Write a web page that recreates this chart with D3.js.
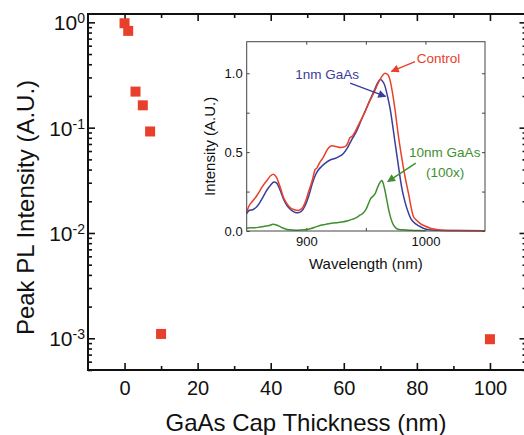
<!DOCTYPE html>
<html><head><meta charset="utf-8">
<script src="https://cdn.jsdelivr.net/npm/d3@7"></script>
<style>body{margin:0;background:#fff}svg{display:block;font-family:"Liberation Sans",Arial,sans-serif}</style>
</head><body>
<svg id="c" width="524" height="435"></svg>
<script>
// ---- main data ----
const capThickness = [0, 1, 3, 5, 7, 10, 100];
const peakPL = [0.98, 0.83, 0.22, 0.163, 0.092, 0.0011, 0.00098];
const xMajorTicks = [0, 20, 40, 60, 80, 100];
const xMinorTicks = [10, 30, 50, 70, 90];
const yMajorExps = [-3, -2, -1, 0];

// ---- inset spectra ----
const controlSpec = [[850,0.12],[852,0.16],[855,0.19],[859,0.23],[863,0.28],[867,0.32],[870,0.35],[872.5,0.36],[875,0.34],[878,0.28],[881,0.21],[884,0.17],[887,0.145],[890,0.135],[893,0.13],[896,0.14],[899,0.18],[902,0.25],[905,0.32],[907.5,0.39],[909,0.40],[911,0.43],[914.5,0.47],[918,0.52],[921.5,0.54],[925,0.535],[929,0.53],[932.5,0.535],[935,0.56],[936.5,0.59],[938.5,0.60],[941,0.63],[945,0.69],[949,0.75],[953,0.82],[957,0.88],[960.5,0.94],[963.5,0.98],[966,1.0],[968.5,0.99],[970.5,0.95],[972.5,0.87],[974.5,0.77],[977,0.62],[980,0.47],[983,0.34],[986,0.23],[988,0.15],[990,0.09],[993,0.065],[996,0.045],[1000,0.03],[1004,0.018],[1009,0.01],[1015,0.005],[1025,0.003],[1050,0.002]];
const gaas1Spec = [[850,0.11],[852,0.13],[855,0.135],[858,0.15],[861,0.18],[864,0.22],[867,0.26],[870,0.29],[873,0.31],[875,0.305],[878,0.26],[881,0.20],[884,0.16],[887,0.135],[890,0.12],[893,0.115],[896,0.125],[899,0.16],[902,0.22],[905,0.30],[908,0.36],[910,0.385],[913,0.41],[916,0.43],[920,0.45],[924,0.46],[927,0.47],[931,0.49],[934,0.52],[936.5,0.555],[939,0.59],[942,0.63],[946,0.70],[950,0.77],[954,0.84],[957,0.89],[960,0.94],[962,0.96],[964,0.95],[966,0.92],[968,0.86],[970.5,0.77],[972.5,0.67],[974.5,0.56],[977,0.43],[980,0.28],[983,0.18],[986,0.11],[988,0.075],[991,0.05],[995,0.03],[1000,0.012],[1005,0.006],[1015,0.003],[1050,0.002]];
const gaas10Spec = [[850,0.017],[853,0.02],[857,0.02],[861,0.025],[865,0.03],[869,0.035],[872,0.042],[875,0.038],[878,0.028],[881,0.017],[884,0.01],[888,0.007],[892,0.005],[896,0.007],[900,0.009],[904,0.016],[908,0.026],[912,0.036],[916,0.042],[920,0.048],[925,0.052],[930,0.057],[935,0.065],[939,0.075],[942,0.085],[945,0.10],[948,0.115],[950,0.135],[952,0.17],[954,0.205],[956,0.22],[958,0.24],[960,0.28],[962,0.31],[963.5,0.32],[965,0.29],[967,0.22],[969,0.14],[971,0.08],[973,0.04],[975,0.02],[978,0.01],[982,0.008],[988,0.005],[995,0.003],[1000,0.002]];
const insetXMajor = [900, 1000];
const insetXMinor = [950];
const insetYMajor = [0, 0.5, 1.0];
const insetYMinor = [0.25, 0.75];

// annotations (in inset data units)
const annotations = [
  {lines:["Control"], color:"#e8402a", tx:992.7, ty:1.066, anchor:"start", from:[991.3,1.074], to:[971.5,1.012]},
  {lines:["1nm GaAs"], color:"#3b3d9a", tx:890.7, ty:0.964, anchor:"start", from:[936.8,0.937], to:[966.5,0.853]},
  {lines:["10nm GaAs","(100x)"], color:"#3f8f2f", tx:986.3, ty:0.47, anchor:"start", from:[991.9,0.43], to:[968.4,0.313]}
];

const svg = d3.select("#c");
const red = "#e8402a";

// ---- main scales ----
const x = d3.scaleLinear().domain([-10, 110]).range([88, 526.5]);
const y = d3.scaleLog().domain([5e-4, 1.2]).range([370, 14]);
const yMajor = yMajorExps.map(e => Math.pow(10, e));
const yMinor = [];
for (let e = -4; e <= 0; e++) for (let k = 2; k <= 9; k++) { const v = k * Math.pow(10, e); if (v >= 5e-4 && v <= 1.2) yMinor.push(v); }

const g = svg.append("g");
function styleAxis(sel){ sel.selectAll(".domain").remove(); sel.selectAll("line").attr("stroke","#111").attr("stroke-width",1.6); }

g.append("g").attr("transform","translate(0,370)")
  .call(d3.axisBottom(x).tickValues(xMajorTicks).tickSize(-7).tickPadding(10.5).tickFormat(d3.format("d")))
  .call(styleAxis).call(s=>s.selectAll("text").attr("font-size",20).attr("fill","#111").attr("font-family","Liberation Sans, Arial"));
g.append("g").attr("transform","translate(0,370)")
  .call(d3.axisBottom(x).tickValues(xMinorTicks).tickSize(-4).tickFormat(""))
  .call(styleAxis);
g.append("g").attr("transform","translate(0,14)")
  .call(d3.axisTop(x).tickValues(xMajorTicks).tickSize(-7).tickFormat(""))
  .call(styleAxis);
g.append("g").attr("transform","translate(0,14)")
  .call(d3.axisTop(x).tickValues(xMinorTicks).tickSize(-4).tickFormat(""))
  .call(styleAxis);
g.append("g").attr("transform","translate(88,0)")
  .call(d3.axisLeft(y).tickValues(yMajor).tickSize(-7).tickFormat(""))
  .call(styleAxis);
g.append("g").attr("transform","translate(88,0)")
  .call(d3.axisLeft(y).tickValues(yMinor).tickSize(-4).tickFormat(""))
  .call(styleAxis);
g.append("g").attr("transform","translate(526.5,0)")
  .call(d3.axisRight(y).tickValues(yMajor).tickSize(-7).tickFormat(""))
  .call(styleAxis);
g.append("g").attr("transform","translate(526.5,0)")
  .call(d3.axisRight(y).tickValues(yMinor).tickSize(-4).tickFormat(""))
  .call(styleAxis);

// frame
g.append("rect").attr("x",88).attr("y",14).attr("width",x(110)-88).attr("height",356)
  .attr("fill","none").attr("stroke","#111").attr("stroke-width",2);

// y tick labels with superscript
yMajorExps.forEach(e => {
  const t = g.append("text").attr("x",85).attr("y",y(Math.pow(10,e))+8).attr("text-anchor","end").attr("fill","#111");
  t.append("tspan").attr("font-size",21).text("10");
  t.append("tspan").attr("font-size",14).attr("dy",-7).text(e===0?"0":"-"+(-e));
});

// axis titles
g.append("text").attr("x",306).attr("y",431).attr("text-anchor","middle").attr("font-size",24).attr("fill","#111").text("GaAs Cap Thickness (nm)");
g.append("text").attr("transform","translate(34,207.5) rotate(-90)").attr("text-anchor","middle").attr("font-size",24).attr("fill","#111").text("Peak PL Intensity (A.U.)");

// markers
g.selectAll("rect.pt").data(capThickness.map((c,i)=>[c,peakPL[i]])).enter().append("rect")
  .attr("class","pt").attr("x",d=>x(d[0])-5).attr("y",d=>y(d[1])-5).attr("width",10).attr("height",10)
  .attr("fill",red);

// ---- inset ----
const ix = d3.scaleLinear().domain([850, 1050]).range([246.7, 485]);
const iy = d3.scaleLinear().domain([0, 1.2]).range([231, 41.7]);
const ig = svg.append("g");
ig.append("rect").attr("x",ix(850)).attr("y",iy(1.2)).attr("width",ix(1050)-ix(850)).attr("height",iy(0)-iy(1.2)).attr("fill","#fff");

function styleInset(sel){ sel.selectAll(".domain").remove(); sel.selectAll("line").attr("stroke","#444").attr("stroke-width",1); }
ig.append("g").attr("transform",`translate(0,${iy(0)})`)
  .call(d3.axisBottom(ix).tickValues(insetXMajor.concat(insetXMinor)).tickSize(-3).tickPadding(6).tickFormat(d=>insetXMajor.includes(d)?d3.format("d")(d):""))
  .call(styleInset).call(s=>s.selectAll("text").attr("font-size",13).attr("fill","#111").attr("font-family","Liberation Sans, Arial"));
ig.append("g").attr("transform",`translate(0,${iy(1.2)})`)
  .call(d3.axisTop(ix).tickValues(insetXMajor.concat(insetXMinor)).tickSize(-3).tickFormat(""))
  .call(styleInset);
ig.append("g").attr("transform",`translate(${ix(850)},0)`)
  .call(d3.axisLeft(iy).tickValues(insetYMajor.concat(insetYMinor)).tickSize(-3).tickPadding(4).tickFormat(d=>insetYMajor.includes(d)?d3.format(".1f")(d):""))
  .call(styleInset).call(s=>s.selectAll("text").attr("font-size",13).attr("fill","#111").attr("font-family","Liberation Sans, Arial"));
ig.append("g").attr("transform",`translate(${ix(1050)},0)`)
  .call(d3.axisRight(iy).tickValues(insetYMajor.concat(insetYMinor)).tickSize(-3).tickFormat(""))
  .call(styleInset);

const line = d3.line().x(d=>ix(d[0])).y(d=>iy(d[1])).curve(d3.curveMonotoneX);
[[gaas10Spec,"#3f8f2f"],[gaas1Spec,"#3b3d9a"],[controlSpec,red]].forEach(([d,c])=>{
  ig.append("path").attr("d",line(d)).attr("fill","none").attr("stroke",c).attr("stroke-width",1.5);
});

ig.append("rect").attr("x",ix(850)).attr("y",iy(1.2)).attr("width",ix(1050)-ix(850)).attr("height",iy(0)-iy(1.2))
  .attr("fill","none").attr("stroke","#444").attr("stroke-width",1);

ig.append("text").attr("x",ix(950)).attr("y",269).attr("text-anchor","middle").attr("font-size",15).attr("fill","#111").text("Wavelength (nm)");
ig.append("text").attr("transform",`translate(215,${(iy(0)+iy(1.2))/2+10}) rotate(-90)`).attr("text-anchor","middle").attr("font-size",15).attr("fill","#111").text("Intensity (A.U.)");

// arrow markers
const defs = svg.append("defs");
annotations.forEach((a,i)=>{
  defs.append("marker").attr("id","ah"+i).attr("viewBox","0 0 10 10").attr("refX",9).attr("refY",5)
    .attr("markerUnits","userSpaceOnUse").attr("markerWidth",9).attr("markerHeight",8).attr("orient","auto")
    .append("path").attr("d","M0,0L10,5L0,10Z").attr("fill",a.color);
  ig.append("line").attr("x1",ix(a.from[0])).attr("y1",iy(a.from[1])).attr("x2",ix(a.to[0])).attr("y2",iy(a.to[1]))
    .attr("stroke",a.color).attr("stroke-width",1.4).attr("marker-end",`url(#ah${i})`);
  a.lines.forEach((l,j)=>{
    ig.append("text").attr("x", j===0 ? ix(a.tx) : ix(a.tx)+36).attr("y",iy(a.ty)+j*20)
      .attr("text-anchor", j===0 ? "start" : "middle").attr("font-size",13.5).attr("fill",a.color).text(l);
  });
});
</script>
</body></html>
